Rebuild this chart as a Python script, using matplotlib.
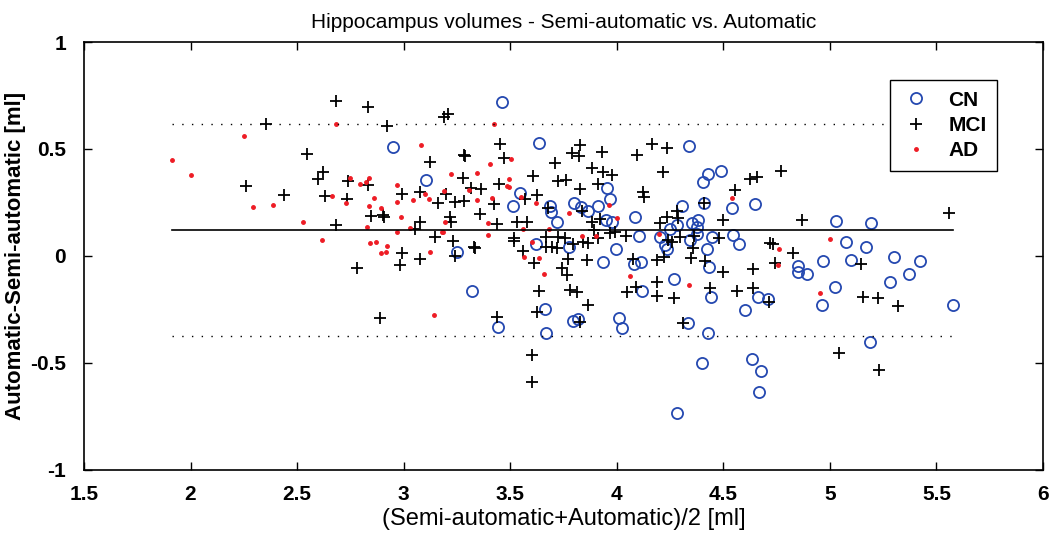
import matplotlib
matplotlib.use('Agg')
import matplotlib.pyplot as plt
from matplotlib import font_manager

# pick a condensed face if present
names = {f.name for f in font_manager.fontManager.ttflist}
fam = 'Liberation Sans Narrow' if 'Liberation Sans Narrow' in names else 'Liberation Sans'
plt.rcParams['font.family'] = [fam, 'DejaVu Sans']

# CN
cn_x = [3.463, 2.951, 3.635, 3.105, 3.546, 3.515, 3.687, 3.691, 3.718, 3.249, 3.620,
        3.955, 3.968, 4.339, 4.489, 4.430, 4.406, 3.801, 3.831, 3.864, 3.911, 3.950,
        3.976, 4.086, 3.777, 3.995, 4.106, 4.250, 4.281, 4.308, 4.203, 4.226, 4.237,
        4.344, 4.352, 4.375, 4.383, 4.375, 4.422, 4.446, 4.539, 4.544, 4.575, 4.649,
        4.411, 5.029, 5.193, 5.076, 5.168, 4.849, 4.849, 4.894, 4.966, 5.099, 5.303,
        5.423, 5.282, 5.373, 5.024, 4.963, 5.576, 4.664, 4.711, 5.188, 4.633, 4.677,
        4.669, 3.937, 4.081, 4.112, 4.433, 4.269, 4.117, 4.441, 4.602, 3.796, 3.820,
        4.012, 4.026, 4.333, 4.430, 4.399, 4.281, 3.322, 3.663, 3.444, 3.667]
cn_y = [0.718, 0.509, 0.528, 0.357, 0.293, 0.234, 0.234, 0.207, 0.160, 0.020, 0.055,
        0.319, 0.266, 0.514, 0.399, 0.382, 0.347, 0.246, 0.230, 0.210, 0.235, 0.168,
        0.160, 0.181, 0.044, 0.033, 0.093, 0.126, 0.145, 0.234, 0.090, 0.051, 0.031,
        0.075, 0.153, 0.137, 0.168, 0.103, 0.031, 0.090, 0.226, 0.098, 0.055, 0.243,
        0.246, 0.164, 0.156, 0.064, 0.044, -0.045, -0.073, -0.086, -0.023, -0.019, -0.003,
        -0.023, -0.120, -0.086, -0.146, -0.229, -0.229, -0.190, -0.201, -0.400, -0.483, -0.536,
        -0.637, -0.026, -0.037, -0.026, -0.050, -0.109, -0.164, -0.190, -0.252, -0.304, -0.294,
        -0.288, -0.335, -0.312, -0.358, -0.502, -0.735, -0.164, -0.248, -0.330, -0.358]

# MCI
mci_x = [2.353, 2.260, 2.440, 2.548, 2.623, 2.600, 2.631, 2.681, 2.681, 2.740, 2.733,
         2.834, 2.920, 3.191, 3.207, 3.454, 3.285, 3.290, 3.471, 3.124, 3.710, 3.280,
         3.609, 3.726, 2.834, 2.994, 3.077, 3.197, 3.163, 3.241, 3.283, 3.315, 3.363,
         3.449, 3.424, 3.569, 3.624, 3.679, 2.845, 2.902, 2.910, 3.077, 3.053, 3.218,
         3.222, 3.358, 3.437, 3.533, 3.577, 3.147, 3.233, 2.991, 3.332, 3.335, 3.519,
         3.519, 3.561, 3.668, 3.668, 3.695, 3.726, 3.718,
         3.828, 3.788, 3.823, 3.929, 3.885, 3.937, 3.976, 3.762, 3.913, 3.828, 4.167,
         4.237, 4.096, 4.215, 4.625, 4.657, 4.555, 4.121, 4.128, 3.838, 3.885, 3.921,
         3.893, 3.913, 3.843, 3.867, 3.757, 3.796, 3.968, 3.992, 4.043, 4.203, 4.234,
         4.281, 4.286, 4.242, 4.258, 4.297, 4.364, 4.359, 4.481, 4.500, 4.411,
         4.771, 4.868, 5.559, 4.719, 4.735,
         4.826, 4.743, 4.641, 5.146, 5.154, 5.226, 5.318, 4.641, 4.716, 5.043, 5.231,
         3.773, 3.859, 3.742, 3.765, 4.075, 4.187, 4.222, 4.348, 4.414, 4.500, 4.190,
         3.781, 3.812, 4.046, 4.090, 4.190, 4.270, 4.437, 4.566, 3.867, 3.828, 4.309,
         2.780, 2.983, 3.077, 3.241, 3.613, 3.637, 3.627, 2.889, 3.437, 3.601, 3.601]
mci_y = [0.617, 0.326, 0.283, 0.477, 0.393, 0.358, 0.280, 0.726, 0.145, 0.350, 0.266,
         0.698, 0.606, 0.648, 0.664, 0.523, 0.472, 0.465, 0.456, 0.439, 0.436, 0.363,
         0.375, 0.352, 0.332, 0.290, 0.300, 0.291, 0.246, 0.254, 0.258, 0.319, 0.312,
         0.335, 0.242, 0.265, 0.285, 0.223, 0.187, 0.192, 0.180, 0.160, 0.126, 0.184,
         0.160, 0.195, 0.148, 0.157, 0.157, 0.087, 0.072, 0.012, 0.044, 0.035, 0.083,
         0.070, 0.025, 0.090, 0.044, 0.040, 0.090, 0.036,
         0.519, 0.480, 0.469, 0.487, 0.410, 0.394, 0.379, 0.355, 0.336, 0.313, 0.522,
         0.503, 0.472, 0.394, 0.360, 0.371, 0.308, 0.300, 0.277, 0.210, 0.157, 0.173,
         0.121, 0.086, 0.067, 0.059, 0.086, 0.055, 0.106, 0.114, 0.093, 0.153, 0.181,
         0.210, 0.179, 0.075, 0.067, 0.090, 0.095, 0.039, 0.083, 0.168, 0.246,
         0.397, 0.168, 0.202, 0.059, 0.055,
         0.012, -0.034, -0.061, -0.037, -0.190, -0.198, -0.232, -0.151, -0.216, -0.452, -0.534,
         -0.014, -0.019, -0.058, -0.089, -0.014, -0.019, -0.006, -0.011, -0.023, -0.073, -0.120,
         -0.159, -0.167, -0.170, -0.143, -0.185, -0.198, -0.151, -0.162, -0.229, -0.310, -0.312,
         -0.055, -0.042, -0.014, 0.002, -0.034, -0.162, -0.260, -0.288, -0.286, -0.463, -0.587]

# AD
ad_x = [1.911, 2.000, 2.252, 2.292, 2.385, 2.526, 2.662, 2.618, 2.681, 2.748, 2.729, 2.795,
        3.424, 3.080, 3.505, 3.405, 3.221, 3.346, 3.494, 2.839, 2.823, 2.971, 2.861, 3.100,
        3.119, 3.045, 2.967, 3.191, 3.307, 3.343, 3.486, 3.496, 3.413, 3.551, 3.620, 2.839,
        2.894, 2.988, 2.827, 3.030, 2.971, 3.194, 3.179, 3.185, 3.394, 3.394, 3.561, 3.682,
        2.842, 2.870, 2.920, 2.894, 2.917, 3.124, 3.601,
        3.776, 3.965, 4.000, 3.901, 3.836, 4.200, 4.539, 5.001, 4.763, 4.758, 4.954,
        4.062, 4.339, 3.144, 3.565, 3.635, 3.660]
ad_y = [0.449, 0.377, 0.561, 0.227, 0.237, 0.157, 0.280, 0.073, 0.615, 0.363, 0.246, 0.335,
        0.615, 0.517, 0.452, 0.430, 0.385, 0.386, 0.361, 0.363, 0.347, 0.332, 0.272, 0.288,
        0.266, 0.262, 0.252, 0.304, 0.307, 0.260, 0.329, 0.324, 0.269, 0.274, 0.246, 0.234,
        0.226, 0.184, 0.134, 0.129, 0.114, 0.160, 0.114, 0.110, 0.156, 0.098, 0.125, 0.126,
        0.059, 0.067, 0.048, 0.016, 0.020, 0.020, 0.067,
        0.202, 0.237, 0.176, 0.093, 0.095, 0.104, 0.273, 0.078, 0.033, -0.042, -0.174,
        -0.092, -0.136, -0.276, -0.006, -0.011, -0.084]

mean_diff = 0.12
upper_loa = 0.615
lower_loa = -0.375

fig = plt.figure(figsize=(10.5, 5.42), dpi=100)
ax = fig.add_axes([0.080, 0.133, 0.9133, 0.7895])

ax.plot(cn_x, cn_y, 'o', mfc='none', mec='#2448b0', mew=1.3, ms=8, ls='none', label='CN')
ax.plot(mci_x, mci_y, '+', color='black', mew=1.3, ms=8, ls='none', label='MCI')
ax.plot(ad_x, ad_y, '.', color='#ee1c25', ms=5, ls='none', label='AD')

allx = cn_x + mci_x + ad_x
x0, x1 = min(allx), max(allx)
ax.plot([x0, x1], [mean_diff, mean_diff], '-', color='black', lw=1.2)
ax.plot([x0, x1], [upper_loa, upper_loa], color='black', lw=1.0, ls=(0, (1, 6)))
ax.plot([x0, x1], [lower_loa, lower_loa], color='black', lw=1.0, ls=(0, (1, 6)))

ax.set_xlim(1.5, 6)
ax.set_ylim(-1, 1)
ax.set_xticks([1.5, 2, 2.5, 3, 3.5, 4, 4.5, 5, 5.5, 6])
ax.set_xticklabels(['1.5', '2', '2.5', '3', '3.5', '4', '4.5', '5', '5.5', '6'])
ax.set_yticks([-1, -0.5, 0, 0.5, 1])
ax.set_yticklabels(['-1', '-0.5', '0', '0.5', '1'])
ax.tick_params(direction='in', top=True, right=True, length=6, width=1, labelsize=15)
ax.tick_params(axis='x', pad=11)
ax.tick_params(axis='y', pad=13)
for t in ax.get_xticklabels() + ax.get_yticklabels():
    t.set_fontweight('bold')
for s in ax.spines.values():
    s.set_linewidth(1.2)

ax.set_title('Hippocampus volumes - Semi-automatic vs. Automatic', fontsize=15, pad=10)
ax.set_xlabel('(Semi-automatic+Automatic)/2 [ml]', fontsize=17)
ax.set_ylabel('Automatic-Semi-automatic [ml]', fontsize=16, fontweight='bold')
ax.xaxis.set_label_coords(0.5, -0.09)
ax.yaxis.set_label_coords(-0.06, 0.5)

leg = ax.legend(loc='upper right', bbox_to_anchor=(0.963, 0.935), fancybox=False,
                edgecolor='black', framealpha=1, fontsize=15, handlelength=1.5,
                borderpad=0.5, labelspacing=0.3)
leg.get_frame().set_linewidth(1.0)
for t in leg.get_texts():
    t.set_fontweight('bold')

fig.savefig('out.png', dpi=100)
